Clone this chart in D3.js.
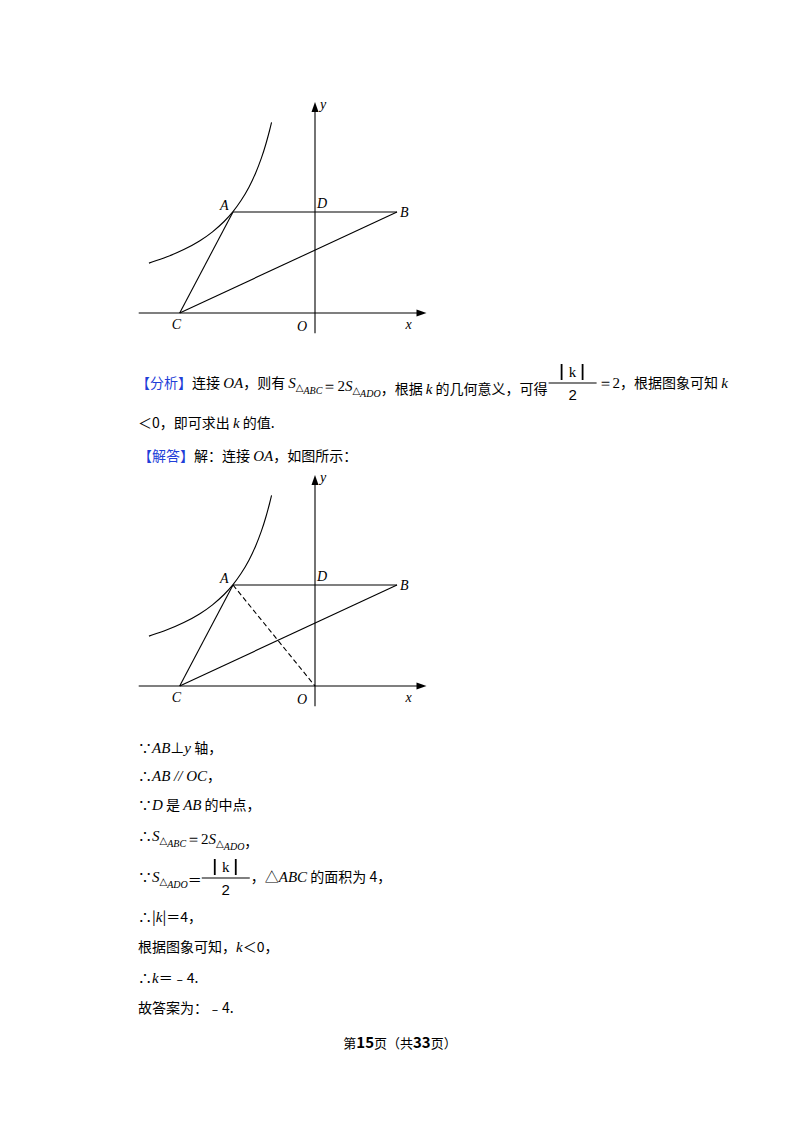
<!DOCTYPE html>
<html><head><meta charset="utf-8">
<script src="https://cdn.jsdelivr.net/npm/d3@7"></script>
<style>body{margin:0;background:#fff}svg{display:block}</style>
</head><body>
<svg id="s" width="800" height="1132"></svg>
<script>
const K = -4;
const curveX = [-4.05,-3.6,-3.2,-2.8,-2.5,-2.2,-2,-1.8,-1.6,-1.45,-1.3,-1.2,-1.1,-1.06];
const points = {A:[-2,2], B:[2,2], C:[-3.3,0], D:[0,2], O:[0,0]};
const xDomain = [-4.3, 2.5];
const yDomain = [-0.4, 4.0];
const figures = [{oy:313, dashed:false}, {oy:686, dashed:true}];

const svg = d3.select("#s");
const serif = "'Liberation Serif','DejaVu Serif',serif";
const cjk = "'Noto Sans CJK SC',sans-serif";

figures.forEach(f=>{
  const x = d3.scaleLinear().domain([0,1]).range([315,356]);
  const y = d3.scaleLinear().domain([0,1]).range([f.oy, f.oy-50.5]);
  const g = svg.append("g").attr("stroke","#000").attr("fill","none").attr("stroke-width",1.1);
  g.append("line").attr("x1",x(xDomain[0])).attr("x2",x(xDomain[1])).attr("y1",y(0)).attr("y2",y(0));
  g.append("line").attr("x1",x(0)).attr("x2",x(0)).attr("y1",y(yDomain[0])).attr("y2",y(yDomain[1]));
  svg.append("path").attr("d",`M${x(xDomain[1])+9},${y(0)}l-10,-3.5v7z`);
  svg.append("path").attr("d",`M${x(0)},${y(yDomain[1])-9}l-3.5,10h7z`);
  g.append("path").attr("d", d3.line().curve(d3.curveBasis)(curveX.map(v=>[x(v),y(K/v)])));
  const P = k=>[x(points[k][0]), y(points[k][1])];
  const seg=(a,b)=>g.append("line").attr("x1",P(a)[0]).attr("y1",P(a)[1]).attr("x2",P(b)[0]).attr("y2",P(b)[1]);
  seg("A","B"); seg("A","C"); seg("C","B");
  if(f.dashed) seg("A","O").attr("stroke-dasharray","5,3");
  const lab=(t,px,py)=>svg.append("text").attr("x",px).attr("y",py).text(t)
    .attr("font-family",serif).attr("font-style","italic").attr("font-size",14);
  lab("A",P("A")[0]-13,P("A")[1]-2);
  lab("D",P("D")[0]+2,P("D")[1]-4);
  lab("B",P("B")[0]+3,P("B")[1]+5);
  lab("C",P("C")[0]-8,P("C")[1]+16);
  lab("O",P("O")[0]-18,P("O")[1]+18);
  lab("x",x(xDomain[1])-12,y(0)+16);
  lab("y",x(0)+5,y(yDomain[1])-2);
});

function line(yy, parts, x0=138){
  const t = svg.append("text").attr("x",x0).attr("y",yy).attr("font-size",14).attr("font-family",cjk);
  parts.forEach(p=>{
    const s = t.append("tspan").text(p.t);
    if(p.i) s.attr("font-family",serif).attr("font-style","italic").attr("font-size",15);
    if(p.r) s.attr("font-family",serif).attr("font-size",15);
    if(p.sub) s.attr("font-family",serif).attr("font-style","italic").attr("font-size",10).attr("dy",3);
    if(p.up) s.attr("dy",-3);
    if(p.c) s.attr("fill",p.c);
  });
  return x0 + t.node().getComputedTextLength();
}
function frac(cx, yy){
  svg.append("text").attr("x",cx).attr("y",yy-8).attr("text-anchor","middle").attr("font-family",serif).attr("font-size",15).text("k");
  [-11,10].forEach(d=>svg.append("line").attr("x1",cx+d).attr("x2",cx+d).attr("y1",yy-21).attr("y2",yy-5).attr("stroke","#000").attr("stroke-width",1.8));
  svg.append("line").attr("x1",cx-24).attr("x2",cx+24).attr("y1",yy-2).attr("y2",yy-2).attr("stroke","#000").attr("stroke-width",1.2);
  svg.append("text").attr("x",cx).attr("y",yy+15).attr("text-anchor","middle").attr("font-family","'Liberation Sans',sans-serif").attr("font-size",15).text("2");
  return cx+25;
}
const blue="#1f3fd8";
let e = line(388,[{t:"【分析】",c:blue},{t:"连接 "},{t:"OA",i:1},{t:"，则有 "},{t:"S",i:1},{t:"△",sub:1},{t:"ABC",sub:1},{t:"＝2",r:1,up:1},{t:"S",i:1},{t:"△",sub:1},{t:"ADO",sub:1},{t:"，根据 ",up:1},{t:"k",i:1},{t:" 的几何意义，可得"}], 136);
e = frac(e+25,385);
line(388,[{t:"＝2",r:1},{t:"，根据图象可知 "},{t:"k",i:1}],e);
line(428,[{t:"＜0，即可求出 "},{t:"k",i:1},{t:" 的值."}]);
line(461,[{t:"【解答】",c:blue},{t:"解：连接 "},{t:"OA",i:1},{t:"，如图所示："}]);

line(753,[{t:"∵"},{t:"AB",i:1},{t:"⊥"},{t:"y",i:1},{t:" 轴，"}]);
line(781,[{t:"∴"},{t:"AB",i:1},{t:" // ",i:1},{t:"OC",i:1},{t:"，"}]);
line(810,[{t:"∵"},{t:"D",i:1},{t:" 是 "},{t:"AB",i:1},{t:" 的中点，"}]);
line(841,[{t:"∴"},{t:"S",i:1},{t:"△",sub:1},{t:"ABC",sub:1},{t:"＝2",r:1,up:1},{t:"S",i:1},{t:"△",sub:1},{t:"ADO",sub:1},{t:"，",up:1}]);
e = line(882,[{t:"∵"},{t:"S",i:1},{t:"△",sub:1},{t:"ADO",sub:1},{t:"＝",up:1}]);
e = frac(e+24,880);
line(882,[{t:"，△"},{t:"ABC",i:1},{t:" 的面积为 4，"}],e);
line(922,[{t:"∴|"},{t:"k",i:1},{t:"|＝4，"}]);
line(952,[{t:"根据图象可知，"},{t:"k",i:1},{t:"＜0，"}]);
line(983,[{t:"∴"},{t:"k",i:1},{t:"＝﹣4."}]);
line(1013,[{t:"故答案为：﹣4."}]);
svg.append("text").attr("x",400).attr("y",1048).attr("text-anchor","middle").attr("font-size",13).attr("font-family",cjk)
  .call(t=>{t.append("tspan").text("第");t.append("tspan").text("15").attr("font-weight","bold").attr("font-size",15);
    t.append("tspan").text("页（共");t.append("tspan").text("33").attr("font-weight","bold").attr("font-size",15);t.append("tspan").text("页）");});
</script>
</body></html>
